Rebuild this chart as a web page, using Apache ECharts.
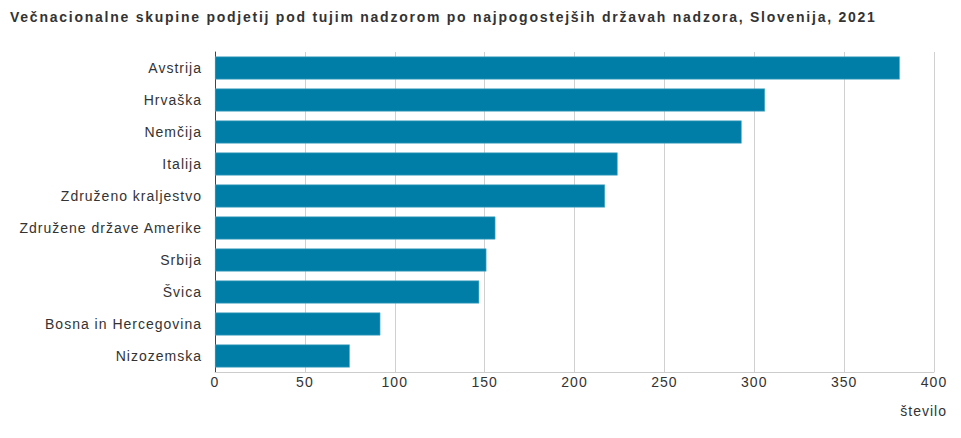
<!DOCTYPE html>
<html><head><meta charset="utf-8">
<script src="https://cdn.jsdelivr.net/npm/echarts@6/dist/echarts.min.js"></script>
<style>html,body{margin:0;padding:0;background:#fff}#c{width:961px;height:438px}
#c text{letter-spacing:1px}
#c text[style*="bold"]{letter-spacing:1.75px}
</style>
</head><body><div id="c"></div>
<script>
const categories = ["Avstrija","Hrvaška","Nemčija","Italija","Združeno kraljestvo","Združene države Amerike","Srbija","Švica","Bosna in Hercegovina","Nizozemska"];
const values = [381,306,293,224,217,156,151,147,92,75];
const xTicks = [0,50,100,150,200,250,300,350,400];

const chart = echarts.init(document.getElementById('c'), null, {renderer:'svg'});
chart.setOption({
  animation:false,
  textStyle:{fontFamily:'Liberation Sans, Arial, sans-serif'},
  title:{text:'Večnacionalne skupine podjetij pod tujim nadzorom po najpogostejših državah nadzora, Slovenija, 2021',
    left:5, top:5, textStyle:{fontSize:14, fontWeight:'bold', color:'#333', fontFamily:'Liberation Sans, Arial, sans-serif'}},
  grid:{left:215, right:27, top:52, bottom:66},
  xAxis:{type:'value', min:xTicks[0], max:xTicks[xTicks.length-1], interval:50,
    name:'število', nameLocation:'end', nameGap:0,
    nameTextStyle:{color:'#333', fontSize:14, align:'right', verticalAlign:'top', padding:[32,-13,0,0]},
    axisLine:{show:true, lineStyle:{color:'#ccc'}}, axisTick:{show:false},
    axisLabel:{color:'#333', fontSize:14, margin:3},
    splitLine:{show:true, lineStyle:{color:'#d0d0d0'}}},
  yAxis:{type:'category', data:categories, inverse:true,
    axisLine:{show:true, lineStyle:{color:'#444'}}, axisTick:{show:false},
    axisLabel:{color:'#333', fontSize:14, margin:13, padding:[0,0,3,0]}},
  series:[{type:'bar', data:values, barWidth:'72%',
    itemStyle:{color:'#007ea7', borderColor:'#5aaecb', borderWidth:0.6}}]
});
</script></body></html>
